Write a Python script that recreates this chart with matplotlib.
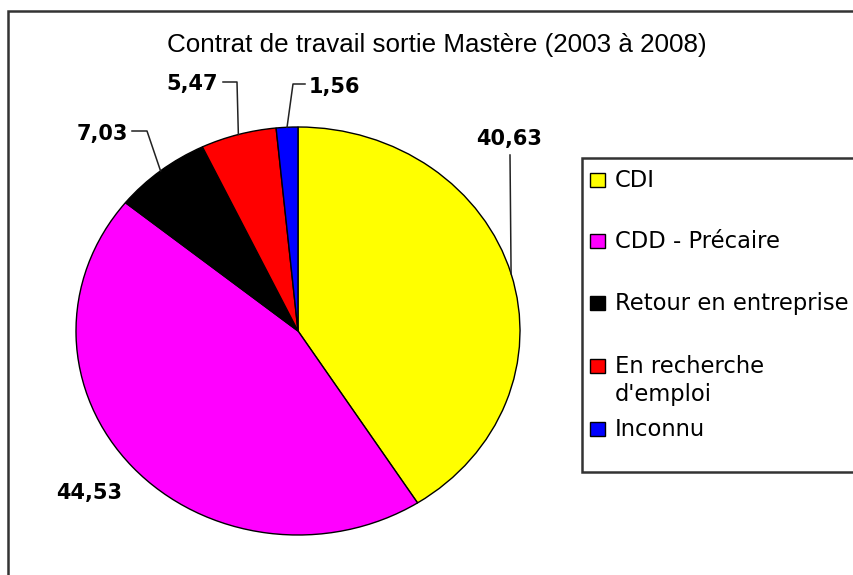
import numpy as np
import matplotlib
matplotlib.use("Agg")
import matplotlib.pyplot as plt
from matplotlib.patches import Rectangle

# data
categories = ["CDI", "CDD - Précaire", "Retour en entreprise", "En recherche\nd'emploi", "Inconnu"]
values = [40.63, 44.53, 7.03, 5.47, 1.56]
colors = ["#FFFF00", "#FF00FF", "#000000", "#FF0000", "#0000FF"]
title = "Contrat de travail sortie Mastère (2003 à 2008)"

W, H = 854, 575
# pie centre and radii in pixels (the original pie is slightly elliptical)
cx, cy, rx, ry = 298, 331, 222, 204

fig = plt.figure(figsize=(W / 100, H / 100), dpi=100)
fig.patch.set_facecolor("white")

# pie axes sized to the ellipse bounding box
pie_ax = fig.add_axes([(cx - rx) / W, (H - cy - ry) / H, 2 * rx / W, 2 * ry / H])
wedges, _ = pie_ax.pie(values, colors=colors, startangle=90, counterclock=False,
                       radius=1, wedgeprops={"edgecolor": "black", "linewidth": 1.0})
for w in wedges:
    w.set_clip_on(False)
pie_ax.set_aspect("auto")
pie_ax.set_xlim(-1, 1)
pie_ax.set_ylim(-1, 1)
pie_ax.axis("off")

# overlay axes in pixel coordinates (y pointing down) for labels, leaders, legend
ax = fig.add_axes([0, 0, 1, 1], zorder=5)
ax.set_xlim(0, W)
ax.set_ylim(H, 0)
ax.axis("off")

# outer chart border (right and bottom run off the image)
ax.plot([8.5, 8.5, W + 5], [H + 5, 10.5, 10.5], color="#333333", lw=1.8,
        solid_joinstyle="miter", clip_on=False)

ax.text(437, 52, title, ha="center", va="baseline", fontsize=18.7,
        family="Liberation Sans", color="black")


def edge_point(i):
    # middle of wedge i on the pie rim, in pixels
    start = sum(values[:i])
    mid = (start + values[i] / 2) / sum(values) * 2 * np.pi
    return cx + rx * np.sin(mid), cy - ry * np.cos(mid)


# value labels: (text x, baseline y, ha, leader points from the label side)
label_layout = [
    (509, 145, "center", [(510, 155)]),
    (89, 499, "center", None),
    (128, 140, "right", [(132, 131), (147, 131)]),
    (218, 90, "right", [(223, 82), (237, 82)]),
    (309, 93, "left", [(305, 84), (293, 84)]),
]
for i, (tx, ty, ha, elbow) in enumerate(label_layout):
    txt = f"{values[i]:.2f}".replace(".", ",")
    ax.text(tx, ty, txt, ha=ha, va="baseline", fontsize=15, fontweight="bold",
            family="DejaVu Sans", color="black")
    if elbow:
        px, py = edge_point(i)
        xs = [p[0] for p in elbow] + [px]
        ys = [p[1] for p in elbow] + [py]
        ax.plot(xs, ys, color="#222222", lw=1.1)

# legend box drawn by hand to keep the uneven row spacing
ax.add_patch(Rectangle((582, 158), W - 582 + 5, 472 - 158, facecolor="white",
                       edgecolor="#333333", lw=1.8, clip_on=False, zorder=1))
legend_baselines = [187, 248, 310, 373, 436]
for i, base in enumerate(legend_baselines):
    ax.add_patch(Rectangle((590, base - 14), 15, 14, facecolor=colors[i],
                           edgecolor="black", lw=1.0, zorder=2))
    for k, line in enumerate(categories[i].split("\n")):
        ax.text(615, base + 28 * k, line, ha="left", va="baseline", fontsize=16.3,
                family="DejaVu Sans", color="black", zorder=3)

fig.savefig("out.png", dpi=100, facecolor="white")
